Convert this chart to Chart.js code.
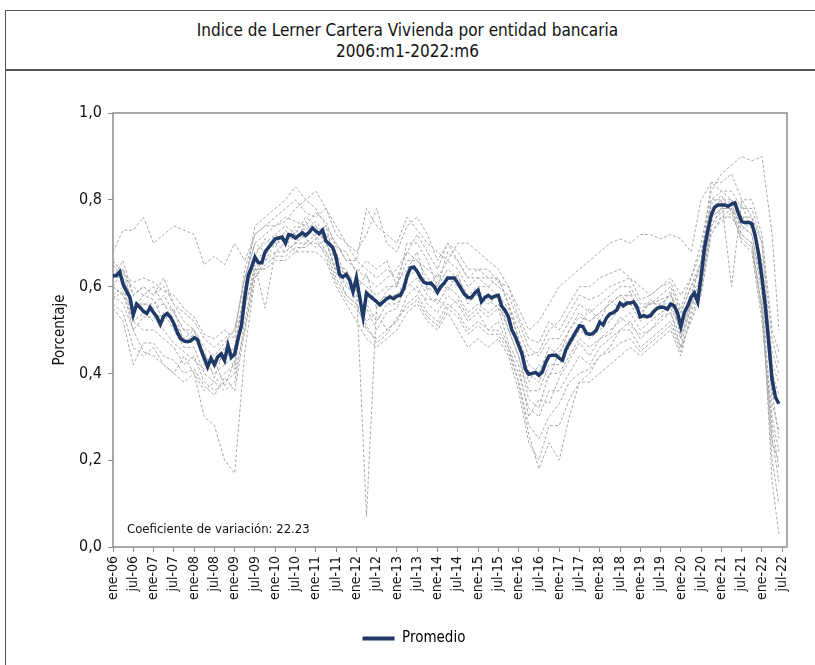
<!DOCTYPE html>
<html>
<head>
<meta charset="utf-8">
<script src="https://cdn.jsdelivr.net/npm/chart.js@4.4.1/dist/chart.umd.min.js"></script>
<style>
  body { margin: 0; width: 815px; height: 665px; overflow: hidden; background: #fff; position: relative;
         font-family: "Liberation Sans Narrow", "DejaVu Sans Condensed", "Arial Narrow", sans-serif; }
  #frame { position: absolute; left: 5px; top: 10px; width: 840px; height: 720px; border: 1px solid #555; }
  #titleBox { position: absolute; left: 5px; top: 10px; width: 840px; height: 59px; border-bottom: 2px solid #555; }
  #title { position: absolute; left: 0; top: 20px; width: 815px; text-align: center; font-size: 17px; line-height: 21px; color: #111; }
  #wrap { position: absolute; left: 0; top: 72px; width: 815px; height: 593px; }
</style>
</head>
<body>
<div id="frame"></div>
<div id="titleBox"></div>
<div id="title">Indice de Lerner Cartera Vivienda por entidad bancaria<br>2006:m1-2022:m6</div>
<div id="wrap"><canvas id="lernerChart" width="815" height="593"></canvas></div>
<script>
// Etiquetas del eje X (cada 6 meses, desde ene-06)
const tickLabels = ['ene-06','jul-06','ene-07','jul-07','ene-08','jul-08','ene-09','jul-09','ene-10','jul-10',
  'ene-11','jul-11','ene-12','jul-12','ene-13','jul-13','ene-14','jul-14','ene-15','jul-15','ene-16','jul-16',
  'ene-17','jul-17','ene-18','jul-18','ene-19','jul-19','ene-20','jul-20','ene-21','jul-21','ene-22','jul-22'];

// Promedio mensual 2006:m1 - 2022:m6
const promedio = [
  0.625,0.625,0.634,0.605,0.590,0.575,0.535,0.560,0.552,0.543,0.538,0.552,
  0.540,0.530,0.513,0.532,0.538,0.530,0.515,0.495,0.480,0.475,0.473,0.475,
  0.482,0.478,0.455,0.435,0.415,0.435,0.420,0.438,0.445,0.430,0.465,0.437,
  0.445,0.480,0.510,0.575,0.625,0.645,0.668,0.655,0.655,0.680,0.690,0.700,
  0.710,0.712,0.714,0.700,0.720,0.718,0.712,0.718,0.724,0.718,0.725,0.735,
  0.728,0.722,0.730,0.705,0.698,0.690,0.668,0.628,0.622,0.628,0.615,0.588,
  0.620,0.575,0.530,0.585,0.578,0.572,0.565,0.558,0.565,0.572,0.576,0.572,
  0.578,0.580,0.595,0.625,0.643,0.645,0.635,0.620,0.610,0.607,0.608,0.600,
  0.587,0.600,0.608,0.620,0.620,0.620,0.608,0.595,0.582,0.575,0.574,0.585,
  0.592,0.565,0.575,0.580,0.574,0.578,0.580,0.555,0.545,0.530,0.500,0.485,
  0.465,0.445,0.410,0.398,0.400,0.402,0.396,0.403,0.425,0.440,0.442,0.442,
  0.435,0.430,0.455,0.470,0.483,0.497,0.510,0.508,0.493,0.490,0.492,0.500,
  0.518,0.512,0.528,0.537,0.540,0.546,0.562,0.556,0.562,0.562,0.565,0.553,
  0.530,0.533,0.530,0.533,0.543,0.550,0.553,0.552,0.548,0.560,0.556,0.540,
  0.507,0.540,0.555,0.575,0.585,0.565,0.625,0.690,0.730,0.765,0.783,0.788,
  0.788,0.788,0.785,0.790,0.793,0.770,0.750,0.747,0.748,0.745,0.718,0.675,
  0.620,0.555,0.470,0.385,0.345,0.330
];

// Meses (índice desde ene-06) de las observaciones trimestrales por entidad
const mesesEntidad = [0,3,6,9,12,15,18,21,24,27,30,33,36,39,42,45,48,51,54,57,60,63,66,69,72,75,78,81,84,87,90,93,
  96,99,102,105,108,111,114,117,120,123,126,129,132,135,138,141,144,147,150,153,156,159,162,165,168,171,174,177,
  180,183,186,189,192,195,197];

// Entidades bancarias (valores trimestrales)
const entidad1 = [.68,.73,.73,.76, .70,.72,.74,.73, .72,.65,.67,.65, .70,.66,.72,.74, .76,.78,.80,.77, .76,.78,.72,.70,
  .66,.78,.74,.72, .70,.76,.73,.70, .68,.66,.70,.70, .68,.66,.64,.60, .55,.50,.52,.56, .60,.62,.64,.66, .68,.70,.71,.70,
  .72,.72,.71,.72, .71,.68,.80,.84, .82,.80,.76,.74, .62,.45, .40];
const entidad2 = [.62,.66,.58,.60, .58,.62,.56,.52, .50,.46,.44,.47, .50,.62,.70,.72, .74,.75,.78,.80, .78,.74,.70,.66,
  .64,.62,.60,.62, .64,.68,.72,.68, .64,.70,.66,.62, .62,.60,.62,.56, .50,.44,.45,.50, .52,.56,.60,.60, .62,.63,.64,.62,
  .60,.58,.60,.62, .58,.62,.70,.82, .86,.88,.90,.89, .90,.72, .50];
const entidad3 = [.58,.56,.50,.45, .44,.42,.40,.44, .40,.30,.28,.20, .17,.45,.62,.66, .70,.68,.70,.72, .74,.70,.64,.58,
  .56,.52,.54,.50, .52,.58,.60,.56, .54,.58,.56,.52, .54,.50,.52,.46, .38,.26,.18,.24, .20,.30,.38,.40, .44,.46,.50,.52,
  .48,.50,.52,.54, .46,.56,.60,.74, .76,.78,.72,.70, .55,.20, .10];
const entidad4 = [.60,.58,.55,.56, .55,.56,.54,.50, .48,.44,.42,.44, .46,.58,.66,.68, .70,.72,.71,.72, .73,.70,.66,.62,
  .60,.07,.56,.58, .58,.62,.64,.60, .58,.62,.60,.58, .58,.56,.58,.50, .44,.36,.36,.42, .42,.46,.50,.48, .50,.52,.55,.56,
  .52,.54,.56,.56, .50,.58,.62,.76, .78,.80,.74,.72, .58,.15, .03];
const entidad5 = [.65,.62,.60,.58, .60,.56,.52,.48, .50,.42,.40,.42, .44,.60,.68,.70, .72,.70,.74,.73, .75,.72,.68,.62,
  .62,.60,.58,.60, .60,.66,.66,.62, .60,.64,.62,.58, .60,.60,.58,.55, .48,.42,.40,.46, .44,.50,.53,.52, .54,.56,.58,.58,
  .55,.56,.57,.58, .54,.60,.64,.78, .80,.80,.76,.76, .65,.40, .35];
const entidad6 = [.56,.54,.46,.44, .46,.42,.40,.38, .40,.36,.38,.36, .38,.52,.64,.66, .68,.68,.70,.70, .70,.68,.62,.58,
  .56,.50,.48,.50, .52,.56,.58,.54, .52,.56,.54,.50, .52,.50,.50,.46, .40,.32,.30,.36, .36,.40,.44,.42, .46,.48,.50,.50,
  .46,.48,.50,.52, .46,.52,.58,.72, .76,.76,.72,.70, .55,.30, .22];
const entidad7 = [.62,.64,.58,.60, .58,.60,.56,.54, .52,.48,.46,.48, .50,.62,.70,.68, .72,.74,.72,.76, .74,.72,.70,.66,
  .66,.64,.62,.64, .62,.68,.66,.64, .62,.66,.64,.60, .62,.62,.60,.58, .52,.46,.44,.48, .48,.52,.56,.54, .56,.58,.60,.60,
  .56,.56,.58,.60, .54,.60,.66,.80, .82,.82,.78,.78, .70,.42, .38];
const entidad8 = [.60,.58,.52,.54, .52,.54,.50,.46, .46,.40,.38,.40, .42,.55,.65,.55, .68,.70,.68,.70, .72,.68,.64,.60,
  .58,.56,.52,.56, .56,.60,.62,.58, .56,.60,.58,.54, .56,.54,.56,.50, .44,.34,.32,.40, .40,.44,.48,.46, .48,.50,.52,.54,
  .50,.52,.54,.55, .50,.56,.62,.76, .78,.78,.74,.72, .60,.25, .15];
const entidad9 = [.63,.62,.56,.56, .56,.58,.54,.50, .50,.44,.42,.44, .46,.60,.74,.76, .78,.80,.83,.80, .82,.78,.74,.70,
  .68,.72,.78,.70, .68,.74,.76,.72, .66,.70,.68,.64, .64,.62,.62,.56, .48,.40,.38,.44, .46,.50,.54,.52, .54,.56,.58,.56,
  .54,.56,.56,.58, .52,.58,.66,.84, .84,.86,.80,.80, .72,.50, .45];
const entidad10 = [.58,.60,.52,.50, .50,.48,.46,.42, .44,.38,.36,.38, .40,.50,.64,.64, .66,.66,.68,.68, .68,.66,.60,.56,
  .52,.48,.46,.48, .50,.54,.56,.52, .50,.54,.50,.46, .48,.46,.48,.44, .36,.24,.20,.28, .28,.34,.38,.38, .40,.42,.44,.46,
  .44,.46,.48,.50, .44,.54,.60,.74, .78,.78,.70,.68, .52,.28, .18];
const entidad11 = [.60,.64,.55,.58, .57,.52,.55,.47, .49,.45,.39,.46, .41,.58,.67,.71, .69,.73,.70,.75, .71,.74,.65,.64,
  .59,.63,.55,.59, .61,.64,.68,.59, .63,.59,.63,.56, .59,.57,.55,.52, .46,.38,.42,.39, .45,.48,.51,.55, .52,.57,.55,.59,
  .53,.57,.55,.59, .48,.57,.66,.79, .81,.77,.79,.73, .66,.33, .27];
const entidad12 = [.57,.59,.50,.53, .53,.50,.47,.45, .43,.41,.43,.37, .43,.56,.63,.67, .71,.69,.73,.71, .69,.71,.63,.61,
  .57,.55,.50,.54, .55,.61,.59,.57, .57,.55,.57,.53, .55,.53,.55,.47, .42,.30,.34,.33, .39,.43,.47,.44, .48,.49,.53,.51,
  .49,.50,.53,.54, .48,.55,.61,.75, .77,.79,.73,.75, .62,.36, .25];
const entidad13 = [.66,.63,.61,.62, .61,.59,.58,.55, .53,.49,.48,.50, .48,.64,.72,.74, .74,.76,.75,.74, .77,.75,.69,.68,
  .63,.66,.64,.66, .60,.70,.70,.66, .60,.68,.66,.62, .64,.64,.61,.60, .53,.48,.47,.52, .50,.54,.58,.57, .58,.60,.61,.62,
  .57,.58,.60,.61, .55,.62,.68,.80, .80,.60,.80,.76, .70,.48, .42];
const entidad14 = [.55,.52,.42,.47, .47,.44,.43,.40, .41,.37,.35,.39, .36,.50,.62,.65, .67,.67,.69,.69, .71,.67,.61,.57,
  .55,.51,.47,.49, .53,.55,.57,.53, .51,.55,.53,.49, .51,.49,.49,.45, .38,.28,.25,.30, .33,.38,.40,.41, .44,.45,.47,.48,
  .45,.47,.49,.51, .45,.53,.59,.73, .75,.77,.71,.69, .54,.24, .20];

const entidades = [entidad1, entidad2, entidad3, entidad4, entidad5, entidad6, entidad7,
  entidad8, entidad9, entidad10, entidad11, entidad12, entidad13, entidad14];
const coefVariacion = 'Coeficiente de variación: 22.23';

const FONT = '"Liberation Sans Narrow", "DejaVu Sans Condensed", "Arial Narrow", sans-serif';
const AZUL = '#1f3a68';

// Marco del área de gráfico + texto del coeficiente
const plotExtras = {
  id: 'plotExtras',
  beforeDatasetsDraw(chart) {
    const { ctx, chartArea: a } = chart;
    ctx.save();
    ctx.strokeStyle = '#8c8c8c';
    ctx.lineWidth = 1.5;
    ctx.strokeRect(a.left, a.top, a.right - a.left, a.bottom - a.top);
    ctx.restore();
  },
  afterDraw(chart) {
    const { ctx, chartArea: a } = chart;
    ctx.save();
    ctx.font = '13px ' + FONT;
    ctx.fillStyle = '#111';
    ctx.textBaseline = 'middle';
    ctx.fillText(coefVariacion, a.left + 14, a.bottom - 17);
    ctx.restore();
  }
};

const datasets = [{
  label: 'Promedio',
  data: promedio.map((v, i) => ({ x: i, y: v })),
  borderColor: AZUL,
  backgroundColor: AZUL,
  borderWidth: 3.5,
  pointRadius: 0,
  tension: 0
}];
entidades.forEach((serie, k) => {
  datasets.push({
    label: 'Entidad ' + (k + 1),
    data: serie.map((v, i) => ({ x: mesesEntidad[i], y: v })),
    borderColor: '#a8a8a8',
    borderWidth: 1,
    borderDash: [3, 2],
    pointRadius: 0,
    tension: 0
  });
});

const ctx = document.getElementById('lernerChart').getContext('2d');
new Chart(ctx, {
  type: 'line',
  data: { datasets },
  options: {
    responsive: false,
    animation: false,
    devicePixelRatio: 1,
    layout: { padding: { left: 41, right: 28, top: 41, bottom: 9 } },
    scales: {
      x: {
        type: 'linear',
        min: 0,
        max: 199.4,
        afterFit(scale) { scale.height = 74; },
        grid: { display: true, drawOnChartArea: false, drawTicks: true, tickLength: 5, color: '#8c8c8c' },
        border: { display: false },
        ticks: {
          stepSize: 6,
          includeBounds: false,
          autoSkip: false,
          maxTicksLimit: 60,
          minRotation: 90,
          maxRotation: 90,
          padding: 4,
          color: '#111',
          font: { family: FONT, size: 14 },
          callback: function(value) {
            return value % 6 === 0 ? tickLabels[value / 6] : '';
          }
        }
      },
      y: {
        min: 0,
        max: 1,
        afterFit(scale) { scale.width = 72; },
        grid: { display: true, drawOnChartArea: false, drawTicks: true, tickLength: 5, color: '#8c8c8c' },
        border: { display: false },
        title: {
          display: true,
          text: 'Porcentaje',
          color: '#111',
          font: { family: FONT, size: 15 },
          padding: { top: 10, bottom: 0 }
        },
        ticks: {
          stepSize: 0.2,
          padding: 6,
          color: '#111',
          font: { family: FONT, size: 16 },
          callback: function(value) {
            return value.toFixed(1).replace('.', ',');
          }
        }
      }
    },
    plugins: {
      title: { display: false },
      tooltip: { enabled: false },
      legend: {
        position: 'bottom',
        labels: {
          color: '#111',
          font: { family: FONT, size: 15 },
          boxWidth: 32,
          boxHeight: 4,
          padding: 10,
          generateLabels: function() {
            return [{ text: 'Promedio', fillStyle: AZUL, strokeStyle: AZUL, lineWidth: 0, datasetIndex: 0 }];
          }
        }
      }
    }
  },
  plugins: [plotExtras]
});
</script>
</body>
</html>
